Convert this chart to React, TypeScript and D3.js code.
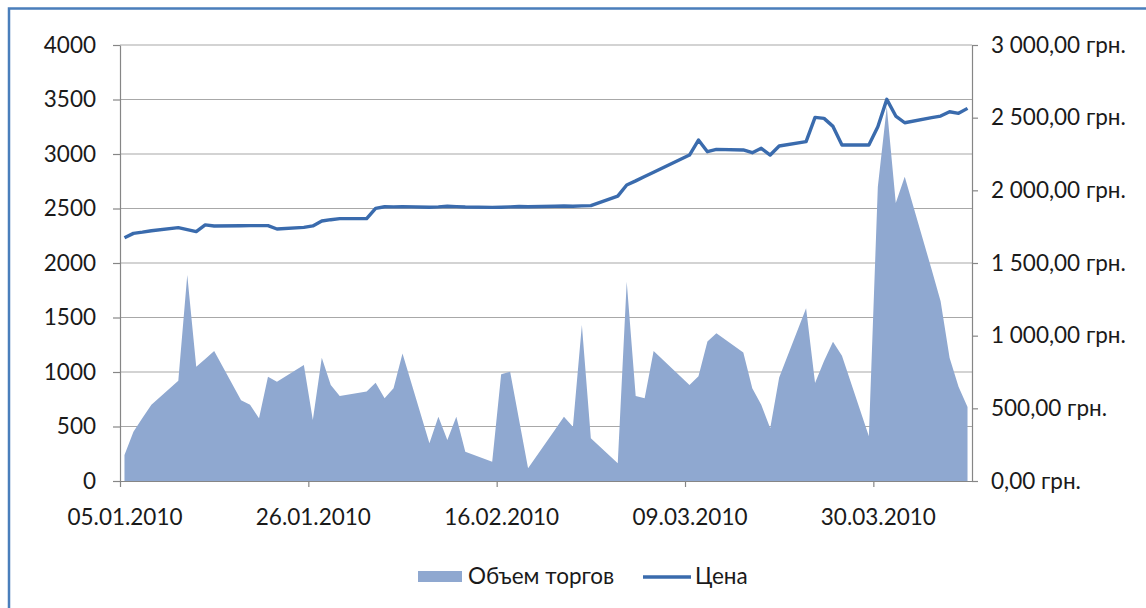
import { useEffect, useRef } from "react";
import * as d3 from "d3";

// объем торгов (left axis)
const volumeDates = [
  "05.01.2010", "06.01.2010", "07.01.2010", "08.01.2010", "11.01.2010", "12.01.2010",
  "13.01.2010", "14.01.2010", "15.01.2010", "18.01.2010", "19.01.2010", "20.01.2010",
  "21.01.2010", "22.01.2010", "25.01.2010", "26.01.2010", "27.01.2010", "28.01.2010",
  "29.01.2010", "01.02.2010", "02.02.2010", "03.02.2010", "04.02.2010", "05.02.2010",
  "08.02.2010", "09.02.2010", "10.02.2010", "11.02.2010", "12.02.2010", "15.02.2010",
  "16.02.2010", "17.02.2010", "18.02.2010", "19.02.2010", "22.02.2010", "23.02.2010",
  "24.02.2010", "25.02.2010", "26.02.2010", "01.03.2010", "02.03.2010", "03.03.2010",
  "04.03.2010", "05.03.2010", "09.03.2010", "10.03.2010", "11.03.2010", "12.03.2010",
  "15.03.2010", "16.03.2010", "17.03.2010", "18.03.2010", "19.03.2010", "22.03.2010",
  "23.03.2010", "24.03.2010", "25.03.2010", "26.03.2010", "29.03.2010", "30.03.2010",
  "31.03.2010", "01.04.2010", "02.04.2010", "05.04.2010", "06.04.2010", "07.04.2010",
  "08.04.2010", "09.04.2010",
];
const volumeValues = [
  238, 452, 578, 700, 920, 1890,
  1049, 1120, 1193, 740, 700, 575,
  957, 911, 1064, 560, 1131, 880,
  780, 820, 902, 760, 850, 1170,
  346, 590, 376, 590, 269, 177,
  979, 1003, 560, 116, 470, 590,
  498, 1431, 392, 162, 1829, 780,
  760, 1193, 880, 960, 1280, 1355,
  1180, 850, 700, 483, 950, 1584,
  900, 1100, 1278, 1150, 410, 2700,
  3434, 2550, 2792, 1940, 1650, 1130,
  865, 680,
];

// цена (right axis)
const priceDates = [
  "05.01.2010", "06.01.2010", "07.01.2010", "08.01.2010", "11.01.2010", "12.01.2010",
  "13.01.2010", "14.01.2010", "15.01.2010", "18.01.2010", "19.01.2010", "20.01.2010",
  "21.01.2010", "22.01.2010", "25.01.2010", "26.01.2010", "27.01.2010", "28.01.2010",
  "29.01.2010", "01.02.2010", "02.02.2010", "03.02.2010", "04.02.2010", "05.02.2010",
  "08.02.2010", "09.02.2010", "10.02.2010", "11.02.2010", "12.02.2010", "15.02.2010",
  "16.02.2010", "17.02.2010", "18.02.2010", "19.02.2010", "22.02.2010", "23.02.2010",
  "24.02.2010", "25.02.2010", "26.02.2010", "01.03.2010", "02.03.2010", "03.03.2010",
  "04.03.2010", "05.03.2010", "09.03.2010", "10.03.2010", "11.03.2010", "12.03.2010",
  "15.03.2010", "16.03.2010", "17.03.2010", "18.03.2010", "19.03.2010", "22.03.2010",
  "23.03.2010", "24.03.2010", "25.03.2010", "26.03.2010", "29.03.2010", "30.03.2010",
  "31.03.2010", "01.04.2010", "02.04.2010", "05.04.2010", "06.04.2010", "07.04.2010",
  "08.04.2010", "09.04.2010",
];
const priceValues = [
  1674, 1704, 1712, 1722, 1743, 1730,
  1716, 1762, 1755, 1756, 1757, 1757,
  1757, 1734, 1745, 1755, 1789, 1798,
  1805, 1805, 1876, 1887, 1886, 1888,
  1884, 1886, 1890, 1888, 1885, 1883,
  1884, 1886, 1889, 1887, 1890, 1892,
  1890, 1893, 1895, 1960, 2037, 2065,
  2095, 2125, 2243, 2346, 2266, 2282,
  2278, 2259, 2289, 2243, 2305, 2335,
  2502, 2495, 2440, 2312, 2312, 2438,
  2626, 2511, 2465, 2500, 2511, 2541,
  2530, 2564,
];

const volumeTicks = [0, 500, 1000, 1500, 2000, 2500, 3000, 3500, 4000];
const priceTicks = [0, 500, 1000, 1500, 2000, 2500, 3000];
const dateTicks = ["05.01.2010", "26.01.2010", "16.02.2010", "09.03.2010", "30.03.2010"];
const legendLabels = ["Объем торгов", "Цена"];

const AREA_COLOR = "#8fa8d0";
const LINE_COLOR = "#3a6bad";
const AXIS_COLOR = "#868686";
const GRID_COLOR = "#a8a8a8";
const FONT = "Lato, 'Noto Sans', sans-serif";
const FONT_SIZE = 22.5;

function App() {
  const svgRef = useRef<SVGSVGElement | null>(null);

  useEffect(() => {
    const svg: any = d3.select(svgRef.current);
    svg.selectAll("*").remove();

    const left = 120;
    const right = 972;
    const top = 45;
    const bottom = 481;

    const parse = d3.utcParse("%d.%m.%Y");
    const halfDay = 12 * 3600 * 1000;
    const first: any = parse(volumeDates[0]);
    const last: any = parse(volumeDates[volumeDates.length - 1]);

    const x = d3
      .scaleUtc()
      .domain([new Date(+first - halfDay), new Date(+last + halfDay)])
      .range([left, right]);
    const yVol = d3.scaleLinear().domain([0, 4000]).range([bottom, top]);
    const yPrice = d3.scaleLinear().domain([0, 3000]).range([bottom, top]);

    // chart frame
    svg
      .append("rect")
      .attr("x", 9)
      .attr("y", 8.5)
      .attr("width", 1300)
      .attr("height", 800)
      .attr("fill", "none")
      .attr("stroke", "#4a7ebb")
      .attr("stroke-width", 2.5);

    // gridlines
    svg
      .append("g")
      .selectAll("line")
      .data(volumeTicks.slice(1))
      .enter()
      .append("line")
      .attr("x1", left)
      .attr("x2", right)
      .attr("y1", (d: number) => yVol(d))
      .attr("y2", (d: number) => yVol(d))
      .attr("stroke", GRID_COLOR)
      .attr("stroke-width", 1.2);

    const volumeData = volumeDates.map((d, i) => ({ date: parse(d) as Date, value: volumeValues[i] }));
    const priceData = priceDates.map((d, i) => ({ date: parse(d) as Date, value: priceValues[i] }));

    const areaGen: any = d3
      .area<any>()
      .x((d) => x(d.date))
      .y0(yVol(0))
      .y1((d) => yVol(d.value));

    svg.append("path").datum(volumeData).attr("d", areaGen).attr("fill", AREA_COLOR);

    const lineGen: any = d3
      .line<any>()
      .x((d) => x(d.date))
      .y((d) => yPrice(d.value));

    svg
      .append("path")
      .datum(priceData)
      .attr("d", lineGen)
      .attr("fill", "none")
      .attr("stroke", LINE_COLOR)
      .attr("stroke-width", 3.4)
      .attr("stroke-linejoin", "round");

    const styleAxis = (g: any) => {
      g.attr("font-family", FONT).attr("font-size", FONT_SIZE);
      g.selectAll("path.domain").attr("stroke", AXIS_COLOR).attr("stroke-width", 1.2);
      g.selectAll(".tick line").attr("stroke", AXIS_COLOR).attr("stroke-width", 1.2);
      g.selectAll(".tick text").attr("fill", "#1a1a1a");
    };

    // left axis
    const leftAxis = svg
      .append("g")
      .attr("transform", `translate(${left},0)`)
      .call(
        d3.axisLeft(yVol).tickValues(volumeTicks).tickSize(7).tickSizeOuter(0).tickPadding(17).tickFormat(d3.format("d"))
      );
    styleAxis(leftAxis);

    // right axis
    const uah = d3.formatLocale({
      decimal: ",",
      thousands: "\u00a0",
      grouping: [3],
      currency: ["", " грн."],
    });
    const rightAxis = svg
      .append("g")
      .attr("transform", `translate(${right},0)`)
      .call(
        d3.axisRight(yPrice).tickValues(priceTicks).tickSize(6).tickSizeOuter(0).tickPadding(13).tickFormat(uah.format("$,.2f") as any)
      );
    styleAxis(rightAxis);

    // bottom axis
    const bottomAxis = svg
      .append("g")
      .attr("transform", `translate(0,${bottom})`)
      .call(
        d3
          .axisBottom(x)
          .tickValues(dateTicks.map((d) => parse(d) as Date))
          .tickSize(6)
          .tickSizeOuter(0)
          .tickPadding(22)
          .tickFormat(d3.utcFormat("%d.%m.%Y") as any)
      );
    styleAxis(bottomAxis);
    const shift = x(new Date(+first + halfDay)) - x(first);
    bottomAxis.selectAll(".tick line").attr("transform", `translate(${-shift},0)`);

    // legend
    const legend = svg.append("g").attr("font-family", FONT).attr("font-size", FONT_SIZE).attr("fill", "#1a1a1a");
    legend
      .append("rect")
      .attr("x", 418)
      .attr("y", 571)
      .attr("width", 44)
      .attr("height", 11)
      .attr("fill", AREA_COLOR);
    legend.append("text").attr("x", 468).attr("y", 584).text(legendLabels[0]);
    legend
      .append("line")
      .attr("x1", 643)
      .attr("x2", 691)
      .attr("y1", 577)
      .attr("y2", 577)
      .attr("stroke", LINE_COLOR)
      .attr("stroke-width", 3.4);
    legend.append("text").attr("x", 695).attr("y", 584).text(legendLabels[1]);
  }, []);

  return (
    <svg
      ref={svgRef}
      width={1146}
      height={608}
      style={{ position: "absolute", left: 0, top: 0, background: "#ffffff" }}
    ></svg>
  );
}

export default App;
